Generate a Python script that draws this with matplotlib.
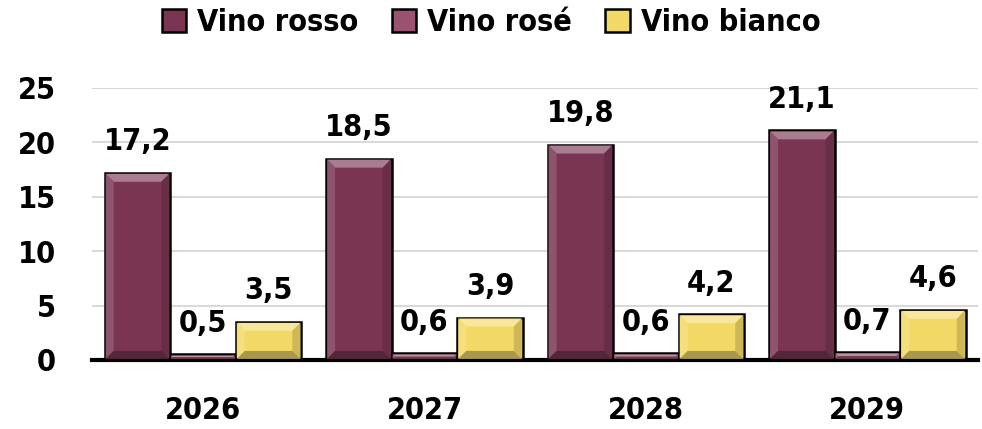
import matplotlib
matplotlib.use("Agg")
from matplotlib import pyplot as plt
from matplotlib.patches import Polygon
from matplotlib import colors as mcolors
import numpy as np

anni = ["2026", "2027", "2028", "2029"]
serie = ["Vino rosso", "Vino rosé", "Vino bianco"]
rosso = [17.2, 18.5, 19.8, 21.1]
rose = [0.5, 0.6, 0.6, 0.7]
bianco = [3.5, 3.9, 4.2, 4.6]
colori = ["#7a3553", "#9a5270", "#f2d965"]

plt.rcParams['font.family'] = ['DejaVu Sans']
font = dict(weight='bold', stretch='condensed')

fig = plt.figure(figsize=(9.82, 4.29), dpi=100)
ax = fig.add_axes([0.094, 0.161, 0.902, 0.634])

x = np.arange(len(anni))
w = 0.296
valori = [rosso, rose, bianco]
gruppi = []
for k, (nome, v, c) in enumerate(zip(serie, valori, colori)):
    b = ax.bar(x + (k - 1) * w, v, w, color=c, edgecolor="black", linewidth=1.8,
               label=nome, zorder=3)
    gruppi.append(b)
    for r, val in zip(b, v):
        ax.annotate("{:.1f}".format(val).replace(".", ","),
                    (r.get_x() + r.get_width() / 2, val), xytext=(0, 12),
                    textcoords="offset points", ha="center", va="bottom",
                    fontsize=22, **font)

ax.set_xlim(-0.5, 3.5)
ax.set_ylim(0, 25)
ax.set_yticks([0, 5, 10, 15, 20, 25])
ax.yaxis.grid(True, color="#d9d9d9", linewidth=1.5, zorder=0)
ax.set_xticks(x)
ax.set_xticklabels(anni)
for s in ["top", "right", "left"]:
    ax.spines[s].set_visible(False)
ax.spines["bottom"].set_linewidth(3)
ax.spines["bottom"].set_zorder(4)
ax.tick_params(length=0, labelsize=22)
ax.tick_params(axis="y", pad=26)
ax.tick_params(axis="x", pad=26)
for t in ax.get_xticklabels() + ax.get_yticklabels():
    t.set_fontweight('bold')
    t.set_fontstretch('condensed')

leg = fig.legend(handles=gruppi, loc="upper center", ncol=3, frameon=False,
                 bbox_to_anchor=(0.5, 1.045), handlelength=0.8, handleheight=0.8,
                 columnspacing=1.1, handletextpad=0.35,
                 prop=dict(size=22, weight='bold', stretch='condensed'))

# effetto smussato sulle barre
fig.canvas.draw()
bev = 8
for b, c in zip(gruppi, colori):
    base = np.array(mcolors.to_rgb(c))
    chiaro = tuple(base + (1 - base) * 0.35)
    scuro = tuple(base * 0.7)
    for r in b:
        bb = r.get_window_extent()
        x0, y0, x1, y1 = bb.x0 + 1, bb.y0 + 1, bb.x1 - 1, bb.y1 - 1
        e = min(bev, (x1 - x0) / 2, (y1 - y0) / 2)
        if e < 1:
            continue
        facce = [
            ([(x0, y1), (x1, y1), (x1 - e, y1 - e), (x0 + e, y1 - e)], chiaro),
            ([(x0, y0), (x0, y1), (x0 + e, y1 - e), (x0 + e, y0 + e)], tuple(base + (1 - base) * 0.15)),
            ([(x1, y0), (x1, y1), (x1 - e, y1 - e), (x1 - e, y0 + e)], tuple(base * 0.85)),
            ([(x0, y0), (x1, y0), (x1 - e, y0 + e), (x0 + e, y0 + e)], scuro),
        ]
        for pts, col in facce:
            p = Polygon(pts, closed=True, facecolor=col, edgecolor="none",
                        transform=None, zorder=3.5)
            fig.add_artist(p)

fig.savefig("out.png", dpi=100)
